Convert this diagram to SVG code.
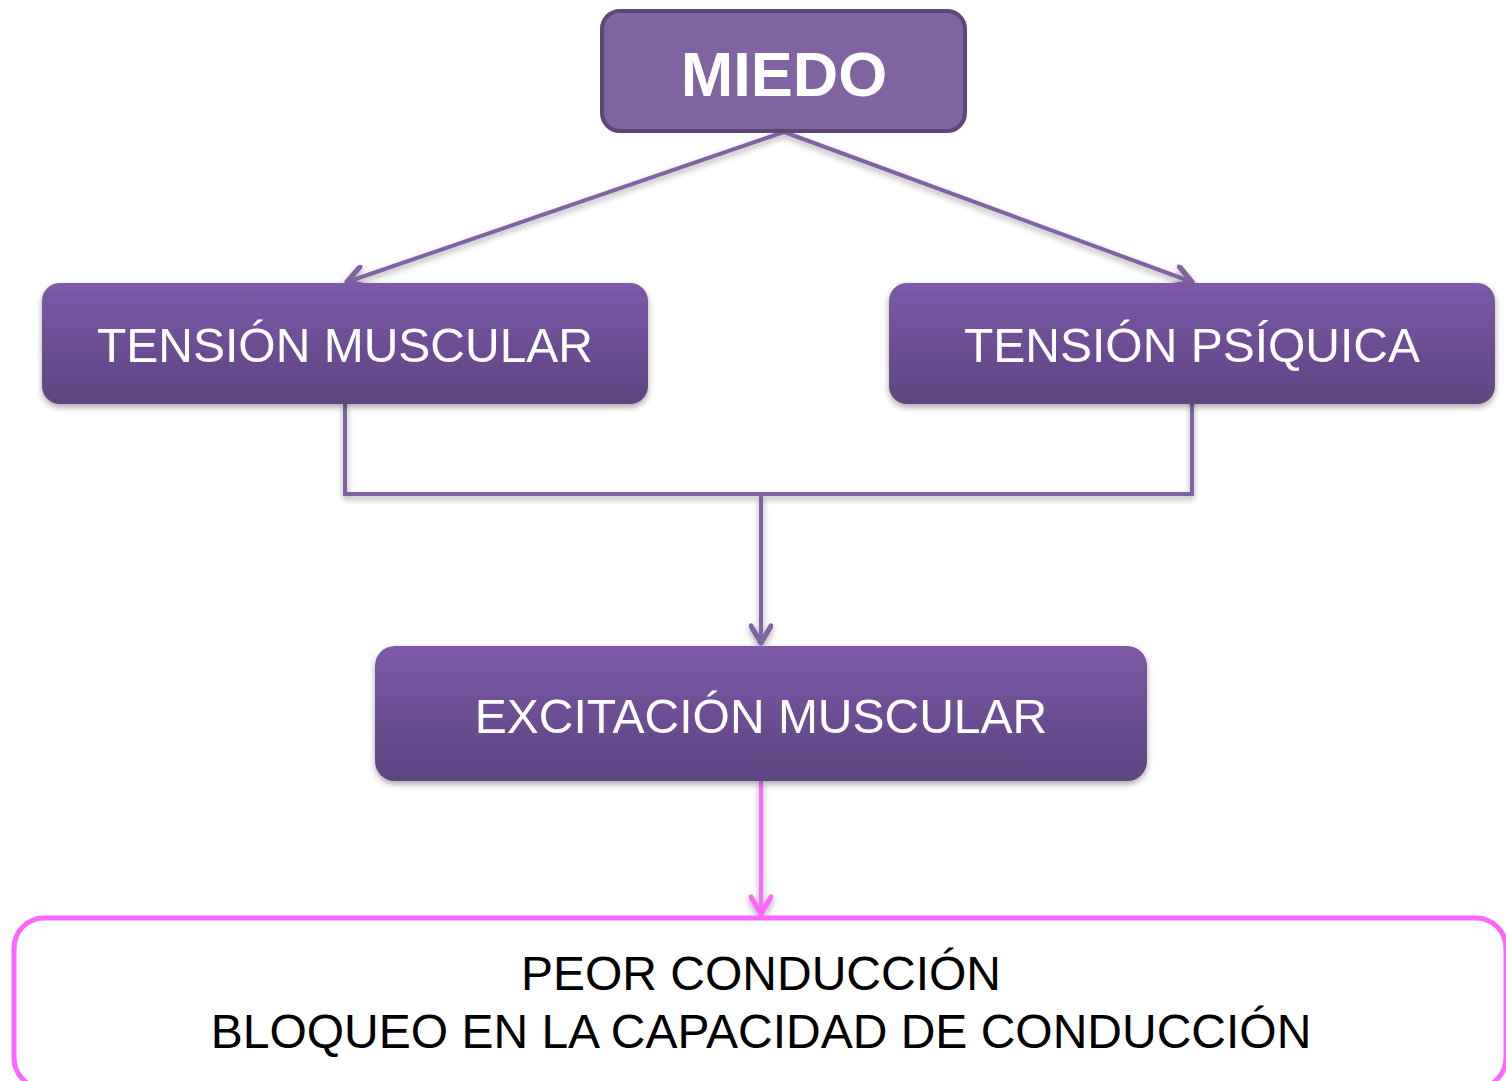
<svg xmlns="http://www.w3.org/2000/svg" width="1506" height="1081" viewBox="0 0 1506 1081">
<style>
.lbl{font-family:"Liberation Sans",Arial,sans-serif;font-size:48px;fill:#fff;text-anchor:middle}
.big{font-family:"Liberation Sans",Arial,sans-serif;font-size:63px;font-weight:bold;fill:#fff;text-anchor:middle}
.blk{font-family:"Liberation Sans",Arial,sans-serif;font-size:48px;fill:#000;text-anchor:middle}
.pc{fill:none;stroke:#8064A2;stroke-width:4;stroke-linecap:round}
.pk{fill:none;stroke:#FF66FF;stroke-width:4;stroke-linecap:round}
</style>
<defs>
<linearGradient id="g" x1="0" y1="0" x2="0" y2="1">
<stop offset="0" stop-color="#7C59A7"/>
<stop offset="1" stop-color="#5E4482"/>
</linearGradient>
<filter id="sh" x="-5%" y="-10%" width="110%" height="130%">
<feDropShadow dx="0" dy="3" stdDeviation="3" flood-color="#000" flood-opacity="0.35"/>
</filter>
<marker id="ap" viewBox="0 0 12 12" refX="10" refY="6" markerWidth="6" markerHeight="6" orient="auto" markerUnits="strokeWidth">
<path d="M1.5,1 L10,6 L1.5,11" fill="none" stroke="#8064A2" stroke-width="2.6" stroke-linecap="round" stroke-linejoin="round"/>
</marker>
<marker id="ak" viewBox="0 0 12 12" refX="10" refY="6" markerWidth="6" markerHeight="6" orient="auto" markerUnits="strokeWidth">
<path d="M1.5,1 L10,6 L1.5,11" fill="none" stroke="#FF66FF" stroke-width="2.6" stroke-linecap="round" stroke-linejoin="round"/>
</marker>
</defs>
<rect width="1506" height="1081" fill="#fff"/>
<g id="connectors" filter="url(#sh)">
<path class="pc" d="M784,132 L347,282" marker-end="url(#ap)"/>
<path class="pc" d="M784,132 L1192,282" marker-end="url(#ap)"/>
<path class="pc" d="M345,404 L345,494 L1192,494 L1192,404"/>
<path class="pc" d="M761,494 L761,643" marker-end="url(#ap)"/>
<path class="pk" d="M761,782 L761,914" marker-end="url(#ak)"/>
</g>
<g id="miedo">
<rect x="602" y="11" width="363" height="120" rx="18" fill="#8064A2" stroke="#5C4776" stroke-width="4"/>
<text class="big" x="784" y="96">MIEDO</text>
</g>
<g id="tension-muscular" filter="url(#sh)">
<rect x="42" y="283" width="606" height="121" rx="18" fill="url(#g)"/>
<text class="lbl" x="345" y="362">TENSIÓN MUSCULAR</text>
</g>
<g id="tension-psiquica" filter="url(#sh)">
<rect x="889" y="283" width="606" height="121" rx="18" fill="url(#g)"/>
<text class="lbl" x="1192" y="362">TENSIÓN PSÍQUICA</text>
</g>
<g id="excitacion-muscular" filter="url(#sh)">
<rect x="375" y="646" width="772" height="135" rx="20" fill="url(#g)"/>
<text class="lbl" x="761" y="733">EXCITACIÓN MUSCULAR</text>
</g>
<g id="peor-conduccion">
<rect x="14" y="918" width="1492" height="170" rx="30" fill="#fff" stroke="#FF66FF" stroke-width="5"/>
<text class="blk" x="761" y="990">PEOR CONDUCCIÓN</text>
<text class="blk" x="761" y="1048">BLOQUEO EN LA CAPACIDAD DE CONDUCCIÓN</text>
</g>
</svg>
